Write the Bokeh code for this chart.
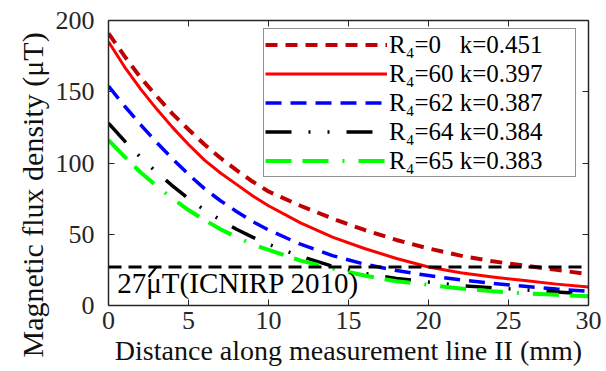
from bokeh.plotting import figure
from bokeh.models import Range1d, LinearAxis, FixedTicker, Legend, LegendItem, Label, Title
from bokeh.embed import file_html
from bokeh.resources import INLINE

x_mm = [0, 1, 2, 3, 4, 5, 6, 7, 8, 9, 10, 12, 14, 16, 18, 20, 22, 24, 26, 28, 30]
b_r0 = [191, 175, 160, 147, 134.5, 123.5, 113, 103.5, 95, 87, 80,
        70, 61, 53, 46, 40, 35, 31, 28, 25, 22]
b_r60 = [185, 167.5, 152, 138, 125, 113, 102, 93, 85, 77, 70,
         58, 48, 40, 33, 27, 23, 20, 17.5, 15, 13]
b_r62 = [154, 140, 127, 114.5, 103, 92, 82, 73.5, 66, 59, 53,
         43, 35, 29, 24.5, 21, 18, 15.5, 13.5, 11.5, 10]
b_r64 = [128, 115.5, 104, 93.5, 84, 75, 67, 60, 53.5, 48, 43,
         34.5, 27.5, 22.5, 19, 16.5, 14, 12.5, 11, 9.5, 8]
b_r65 = [116, 104.5, 93.5, 84, 75, 67, 60, 53.5, 48, 43, 39,
         31.5, 26, 21, 17, 14.5, 12, 10, 8.5, 7.5, 6.5]
limit_value = 27
limit_text = "27\u03bcT(ICNIRP 2010)"
labels = ["R\u2084=0   k=0.451", "R\u2084=60 k=0.397", "R\u2084=62 k=0.387",
          "R\u2084=64 k=0.384", "R\u2084=65 k=0.383"]
x_ticks = [0, 5, 10, 15, 20, 25, 30]
y_ticks = [0, 50, 100, 150, 200]

FONT = "Liberation Serif"
AX = "#262626"

p = figure(width=606, height=371, output_backend="svg", toolbar_location=None,
           x_range=Range1d(0, 30), y_range=Range1d(0, 200),
           min_border_left=108, min_border_right=18, min_border_top=20,
           min_border_bottom=66)
p.outline_line_color = None
p.grid.visible = False
p.background_fill_color = "white"

styles = [
    dict(color="#C00000", line_width=4, line_dash="12 8"),
    dict(color="#FF0000", line_width=3, line_dash="solid"),
    dict(color="#0000FF", line_width=3.5, line_dash="16 9"),
    dict(color="#000000", line_width=3.5, line_dash="26 17 2 17 2 17"),
    dict(color="#00FF00", line_width=4, line_dash="26 11 26 14 2 14"),
]
series = [b_r0, b_r60, b_r62, b_r64, b_r65]
renderers = []
for ys, st in zip(series, styles):
    r = p.line(x_mm, ys, line_color=st["color"], line_width=st["line_width"],
               line_dash=st["line_dash"], line_join="round")
    renderers.append(r)

# ICNIRP limit line
p.line([x_mm[0], x_mm[-1]], [limit_value, limit_value], line_color="black",
       line_width=3, line_dash="13 7")
p.segment(x0=[2.5], y0=[20], x1=[3.0], y1=[limit_value], line_color="black", line_width=2)
p.add_layout(Label(x=0.55, y=4.5, text=limit_text, text_font=FONT,
                   text_font_size="29px", text_color="black"))

# axes styling
for ax in p.xaxis + p.yaxis:
    ax.axis_line_color = AX
    ax.axis_line_width = 1.5
    ax.major_tick_line_color = AX
    ax.major_tick_in = 6
    ax.major_tick_out = 0
    ax.minor_tick_line_color = None
    ax.major_label_text_font = FONT
    ax.major_label_text_font_size = "26px"
    ax.major_label_text_color = AX
    ax.axis_label_text_font = FONT
    ax.axis_label_text_font_size = "28px"
    ax.axis_label_text_font_style = "normal"
    ax.axis_label_text_color = "#111111"
p.xaxis.ticker = FixedTicker(ticks=x_ticks)
p.yaxis.ticker = FixedTicker(ticks=y_ticks)
p.xaxis.axis_label = "Distance along measurement line II (mm)"
p.xaxis.axis_label_standoff = 3
p.xaxis.major_label_standoff = 6
p.yaxis.major_label_standoff = 14

ylab = Title(text="Magnetic flux density (\u03bcT)", align="left", offset=-52,
             text_font=FONT, text_font_size="30px", text_font_style="normal",
             text_color="#111111", standoff=7)
p.add_layout(ylab, "left")

top = LinearAxis(ticker=FixedTicker(ticks=x_ticks),
                 major_label_overrides={t: "" for t in x_ticks},
                 axis_line_color=AX, axis_line_width=1.5, major_tick_line_color=AX,
                 major_tick_in=6, major_tick_out=0, minor_tick_line_color=None,
                 major_label_standoff=0)
right = LinearAxis(ticker=FixedTicker(ticks=y_ticks),
                   major_label_overrides={t: "" for t in y_ticks},
                   axis_line_color=AX, axis_line_width=1.5, major_tick_line_color=AX,
                   major_tick_in=6, major_tick_out=0, minor_tick_line_color=None,
                   major_label_standoff=0)
p.add_layout(top, "above")
p.add_layout(right, "right")

legend = Legend(items=[LegendItem(label=l, renderers=[r]) for l, r in zip(labels, renderers)],
                location=(155, 128), glyph_width=122, glyph_height=29, label_height=29,
                label_width=185, label_standoff=2, spacing=0, padding=1, margin=0,
                label_text_font=FONT, label_text_font_size="25px",
                label_text_color="black", border_line_color=AX, border_line_width=1.2,
                background_fill_alpha=1.0)
p.add_layout(legend, "center")

open("out.html", "w").write(file_html(p, INLINE))
